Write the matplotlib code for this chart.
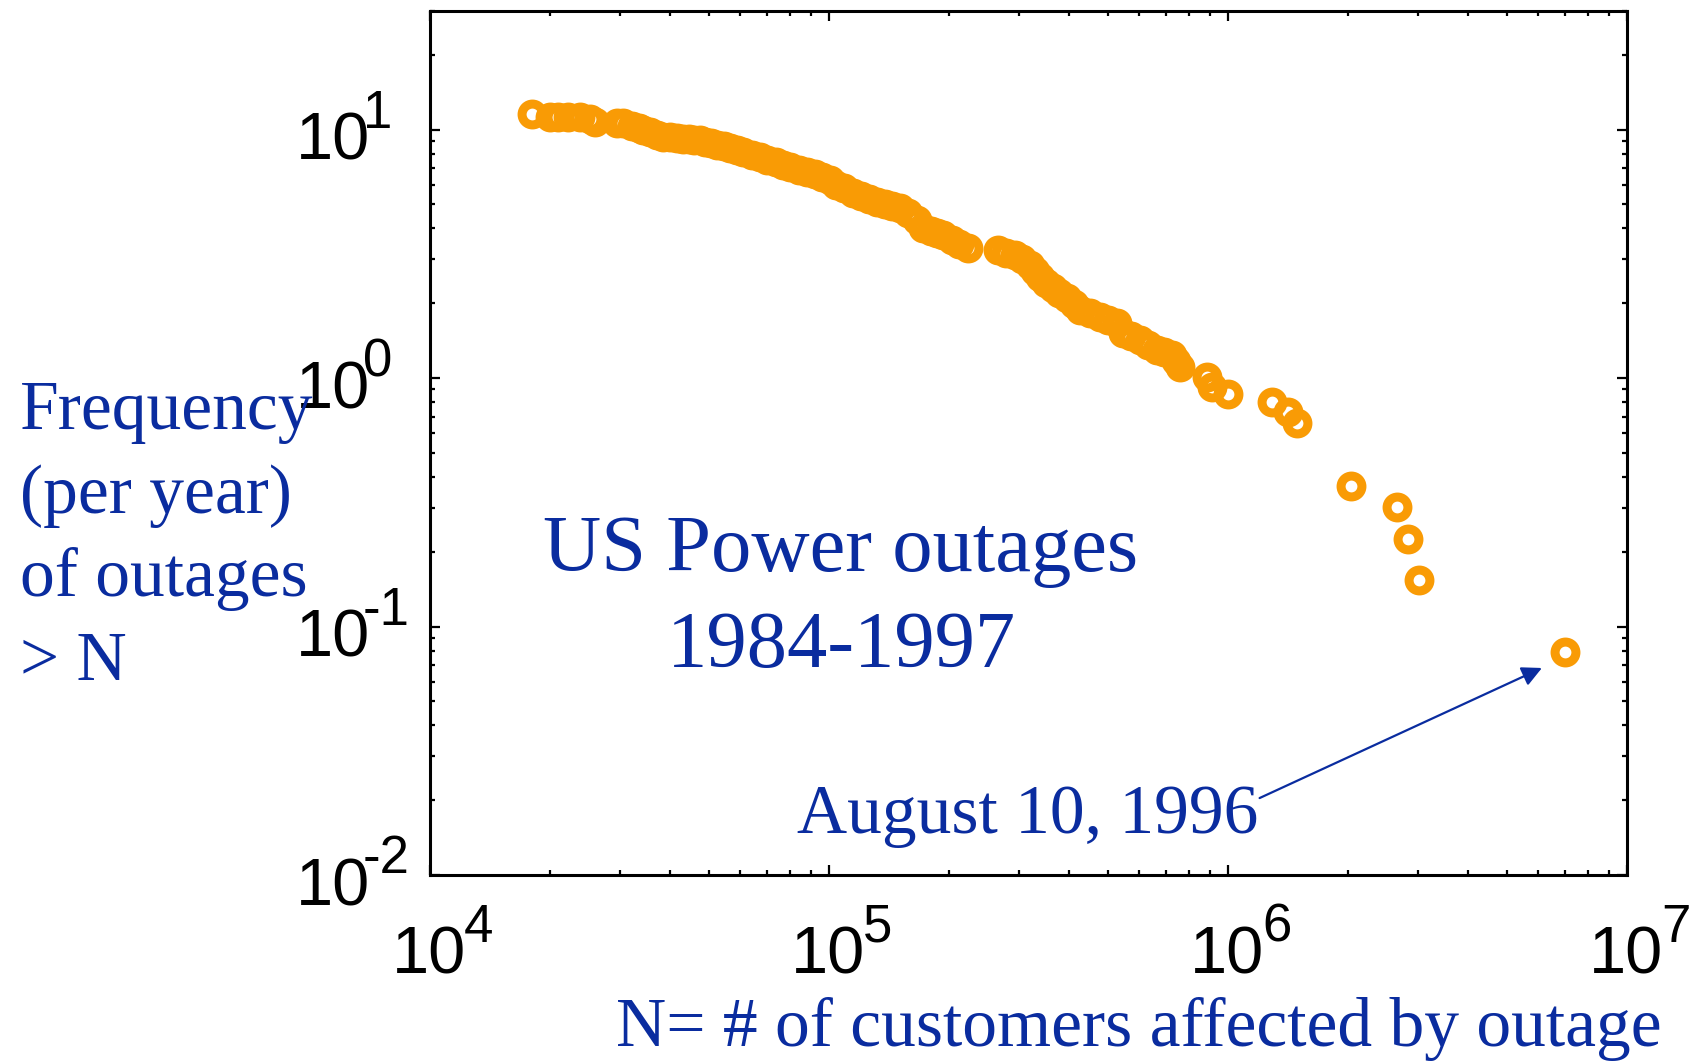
import matplotlib
matplotlib.use('Agg')
import matplotlib.pyplot as plt
import matplotlib.ticker as mticker
import numpy as np

# N = customers affected (thousands)
customers_k = [18.0, 20.0, 20.9, 22.2, 23.8, 25.2, 25.9, 29.4, 30.5, 32.0,
               33.5, 34.2, 35.5, 37.0, 38.4, 40.0, 41.5, 43.0, 44.5, 46.0,
               47.5, 49.0, 50.7, 52.4, 54.5, 56.5, 58.7, 61.0, 64.0, 67.1,
               70.0, 73.5, 76.7, 80.0, 84.0, 88.1, 92.0, 96.0, 100.7, 104.0,
               109.0, 114.9, 120.0, 126.0, 131.8, 138.0, 144.0, 150.7, 158.0, 166.0,
               172.0, 180.0, 186.0, 193.0, 203.0, 212.0, 223.0, 265.0, 278.0, 292.0,
               305.0, 319.0, 328.0, 338.0, 350.0, 364.0, 378.0, 394.0, 410.0, 425.0,
               450.0, 477.0, 500.0, 527.0, 546.0, 570.0, 601.0, 630.0, 663.0, 690.0,
               724.0, 740.0, 758.0, 885.0, 912.0, 1000.0, 1290.0, 1410.0, 1490.0, 2030.0,
               2650.0, 2830.0, 3010.0, 7000.0]
# frequency (per year) of outages > N
freq = [11.5, 11.2, 11.2, 11.2, 11.2, 11.0, 10.7, 10.6, 10.6, 10.3,
        10.1, 10.0, 9.8, 9.55, 9.33, 9.3, 9.25, 9.2, 9.15, 9.1,
        9.07, 8.95, 8.8, 8.67, 8.55, 8.4, 8.26, 8.1, 7.9, 7.75,
        7.55, 7.4, 7.2, 7.05, 6.9, 6.74, 6.6, 6.45, 6.27, 6.0,
        5.8, 5.55, 5.4, 5.25, 5.11, 5.0, 4.92, 4.83, 4.6, 4.33,
        4.02, 3.9, 3.85, 3.77, 3.6, 3.45, 3.34, 3.27, 3.2, 3.12,
        3.0, 2.85, 2.7, 2.55, 2.42, 2.30, 2.2, 2.10, 1.98, 1.88,
        1.82, 1.76, 1.72, 1.67, 1.52, 1.48, 1.42, 1.36, 1.30, 1.27,
        1.24, 1.17, 1.11, 1.01, 0.92, 0.863, 0.80, 0.73, 0.66, 0.367,
        0.303, 0.225, 0.154, 0.079]

x_exps = [4, 5, 6, 7]
y_exps = [-2, -1, 0, 1]
ylabel_lines = ['Frequency', '(per year)', 'of outages', '> N']

blue = '#0A2C9F'
orange = '#F99B05'
sans = 'Liberation Sans'
serif = 'Liberation Serif'

W, H = 1695, 1062
fig = plt.figure(figsize=(W / 100, H / 100), dpi=100)
ax = fig.add_axes([430 / W, 1 - 875 / H, 1197 / W, 864 / H])
ax.set_xscale('log')
ax.set_yscale('log')

ax.plot(np.array(customers_k) * 1000, freq, 'o', mfc='none', mec=orange,
        ms=15, mew=6.5, clip_on=False)

ax.set_xlim(1e4, 1e7)
ax.set_ylim(0.01, 30)

ax.set_xticks([10.0 ** e for e in x_exps])
ax.set_yticks([10.0 ** e for e in y_exps])
ax.xaxis.set_minor_locator(mticker.LogLocator(base=10, subs=range(2, 10), numticks=20))
ax.yaxis.set_minor_locator(mticker.LogLocator(base=10, subs=range(2, 10), numticks=20))
ax.xaxis.set_minor_formatter(mticker.NullFormatter())
ax.yaxis.set_minor_formatter(mticker.NullFormatter())
ax.tick_params(which='both', direction='in', top=True, right=True,
               labelbottom=False, labelleft=False, width=1.6, color='black')
ax.tick_params(which='major', length=7.5)
ax.tick_params(which='minor', length=3.8)
for s in ax.spines.values():
    s.set_linewidth(2.2)

# tick labels: "10" plus a separate big exponent
for e in x_exps:
    ax.annotate('10', xy=(10.0 ** e, 0), xycoords=('data', 'axes fraction'),
                xytext=(-1, -98), textcoords='offset pixels', ha='center', va='baseline',
                fontsize=48, family=sans, annotation_clip=False)
    ax.annotate(str(e), xy=(10.0 ** e, 0), xycoords=('data', 'axes fraction'),
                xytext=(34, -67), textcoords='offset pixels', ha='left', va='baseline',
                fontsize=38, family=sans, annotation_clip=False)
for e in y_exps:
    ax.annotate('10', xy=(0, 10.0 ** e), xycoords=('axes fraction', 'data'),
                xytext=(-60, -30), textcoords='offset pixels', ha='right', va='baseline',
                fontsize=48, family=sans, annotation_clip=False)
    ax.annotate(str(e), xy=(0, 10.0 ** e), xycoords=('axes fraction', 'data'),
                xytext=(-67, 2), textcoords='offset pixels', ha='left', va='baseline',
                fontsize=38, family=sans, annotation_clip=False)

for i, line in enumerate(ylabel_lines):
    fig.text(20 / W, 1 - (429 + 83.7 * i) / H, line, ha='left', va='baseline',
             fontsize=50, family=serif, color=blue)

fig.text(841 / W, 1 - 571 / H, 'US Power outages', ha='center', va='baseline',
         fontsize=58, family=serif, color=blue)
fig.text(841 / W, 1 - 667 / H, '1984-1997', ha='center', va='baseline',
         fontsize=58, family=serif, color=blue)

fig.text(1662 / W, 1 - 1046 / H, 'N= # of customers affected by outage', ha='right',
         va='baseline', fontsize=50, family=serif, color=blue)

ax.annotate('', xy=(6.12e6, 0.0681), xytext=(1.2e6, 0.0204),
            arrowprops=dict(arrowstyle='-|>', mutation_scale=30, lw=1.6, color=blue,
                            shrinkA=0, shrinkB=0))
ax.text(1.19e6, 0.0147, 'August 10, 1996', ha='right', va='baseline',
        fontsize=50, family=serif, color=blue)

fig.savefig('out.png', dpi=100)
